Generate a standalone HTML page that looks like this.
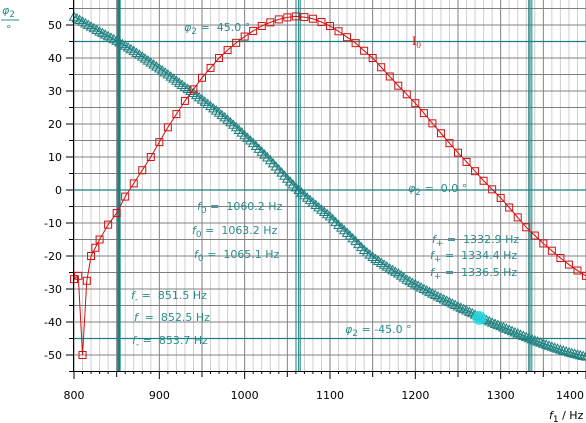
<!DOCTYPE html>
<html><head><meta charset="utf-8"><style>
html,body{margin:0;padding:0;background:#fff;}
svg{display:block;font-family:"DejaVu Sans","Liberation Sans",sans-serif;}
text{white-space:pre;}
.lbl{fill:#2a8c8c;font-size:11px;}
</style></head><body>
<svg id="chart" width="586" height="423" viewBox="0 0 586 423" xmlns="http://www.w3.org/2000/svg">
<g id="grid"></g>
<g id="marks"></g>
<g id="axes"></g>
<g id="labels"></g>
</svg>
<script>
const redFreq = [800,805,810,815,820,825,830,840,850,860,870,880,890,900,910,920,930,940,950,960,970,980,990,1000,1010,1020,1030,1040,1050,1060,1070,1080,1090,1100,1110,1120,1130,1140,1150,1160,1170,1180,1190,1200,1210,1220,1230,1240,1250,1260,1270,1280,1290,1300,1310,1320,1330,1340,1350,1360,1370,1380,1390,1400];
const redValues = [-27,-26,-50,-27.5,-20,-17.5,-15,-10.5,-7,-2,2,6,10,14.5,19,23,27,30.5,34,37,40,42.4,44.6,46.5,48.2,49.7,50.8,51.7,52.3,52.6,52.4,51.9,50.9,49.7,48.1,46.3,44.5,42.2,40,37.2,34.4,31.6,29,26.3,23.3,20.2,17.2,14.2,11.3,8.5,5.7,2.8,0.2,-2.4,-5.3,-8.3,-11.3,-13.8,-16.2,-18.4,-20.6,-22.6,-24.4,-26];
const greenFreq = [800,810,820,830,840,850,860,870,880,890,900,910,920,930,940,950,960,970,980,990,1000,1010,1020,1030,1040,1050,1060,1070,1080,1090,1100,1110,1120,1130,1140,1150,1160,1170,1180,1190,1200,1210,1220,1230,1240,1250,1260,1270,1280,1290,1300,1310,1320,1330,1340,1350,1360,1370,1380,1390,1400];
const greenValues = [52.5,51,49.5,48,46.6,45.2,43.7,42.1,40.4,38.6,36.8,35,33.1,31.2,29.4,27.4,25.4,23.4,21.3,19,16.6,14.2,11.6,9,6.2,3.4,0.8,-1.6,-3.8,-6,-8,-10.6,-13,-15.5,-18.2,-20.3,-22.1,-23.8,-25.3,-27.2,-28.6,-30,-31.4,-32.7,-34,-35.3,-36.5,-37.8,-39,-40.2,-41.3,-42.4,-43.5,-44.6,-45.6,-46.6,-47.5,-48.4,-49.2,-49.9,-50.5];
const xTicks = [800,900,1000,1100,1200,1300,1400];
const yTicks = [50,40,30,20,10,0,-10,-20,-30,-40,-50];
const fMinus = [851.5,852.5,853.7];
const fZero = [1060.2,1063.2,1065.1];
const fPlus = [1332.9,1334.4,1336.5];
const phiLines = [45,0,-45];
const cursor = [1275,-38.8];

const NS="http://www.w3.org/2000/svg";
const X0=74,X1=586,YTOP=0,YBOT=371;
const xs=f=>X0+(f-800)*(X1-X0)/600;
const ys=v=>190-3.3*v;
function mk(p,t,a){const e=document.createElementNS(NS,t);for(const k in a)e.setAttribute(k,a[k]);p.appendChild(e);return e;}
const grid=document.getElementById('grid'),marks=document.getElementById('marks'),axes=document.getElementById('axes');

for(let f=800;f<=1400;f+=10){
  const l=mk(grid,'line',{x1:xs(f),x2:xs(f),y1:YTOP,y2:YBOT,stroke:f%50===0?'#808080':'#d0d0d0','stroke-width':1});
  
  
}
for(let v=-55;v<=55;v+=5){
  const l=mk(grid,'line',{x1:X0,x2:X1,y1:ys(v),y2:ys(v),stroke:'#808080','stroke-width':1});
  
  
}
phiLines.forEach(v=>{
  const l=mk(grid,'line',{x1:X0,x2:X1,y1:ys(v),y2:ys(v),stroke:'#1f8080','stroke-width':1.2});
  
  
});
fMinus.forEach(f=>{
  const l=mk(grid,'line',{x1:xs(f),x2:xs(f),y1:YTOP,y2:YBOT,stroke:'#1f8080','stroke-width':1.6});
  
  
});
fZero.forEach(f=>{
  const l=mk(grid,'line',{x1:xs(f),x2:xs(f),y1:YTOP,y2:YBOT,stroke:'#1f8080','stroke-width':1});
  
  
});
fPlus.forEach(f=>{
  const l=mk(grid,'line',{x1:xs(f),x2:xs(f),y1:YTOP,y2:YBOT,stroke:'#1f8080','stroke-width':1});
  
  
});

let gp=greenFreq.map((f,i)=>(i?'L':'M')+xs(f)+','+ys(greenValues[i])).join('');
const gl=mk(marks,'path',{d:gp,fill:'none',stroke:'#1f8080','stroke-width':1});


function tri(x,y){
  const t=mk(marks,'path',{d:`M${x-4.5},${y+3.5}L${x+4.5},${y+3.5}L${x},${y-4.5}Z`,fill:'none',stroke:'#1f8080','stroke-width':1});
  
  
}
greenFreq.forEach((f,i)=>{
  const x=xs(f),y=ys(greenValues[i]);tri(x,y);
  if(i<greenFreq.length-1){const x2=xs(greenFreq[i+1]),y2=ys(greenValues[i+1]);
    for(let k=1;k<3;k++)tri(x+(x2-x)*k/3,y+(y2-y)*k/3);}
});
let rp=redFreq.map((f,i)=>(i?'L':'M')+xs(f)+','+ys(redValues[i])).join('');
const rl=mk(marks,'path',{d:rp,fill:'none',stroke:'#d01010','stroke-width':1});


redFreq.forEach((f,i)=>{
  const r=mk(marks,'rect',{x:xs(f)-3.5,y:ys(redValues[i])-3.5,width:7,height:7,fill:'none',stroke:'#d01010','stroke-width':1});
  
  
});
const cc=mk(marks,'circle',{cx:xs(cursor[0]),cy:ys(cursor[1]),r:7,fill:'#20e0e8','fill-opacity':0.8});



const ya=mk(axes,'line',{x1:73.5,x2:73.5,y1:0,y2:YBOT,stroke:'#000','stroke-width':1});


const xa=mk(axes,'line',{x1:73,x2:X1,y1:YBOT+0.5,y2:YBOT+0.5,stroke:'#000','stroke-width':1});


for(let v=-55;v<=55;v+=5){
  const t=mk(axes,'line',{x1:v%10===0?66:69,x2:74,y1:ys(v),y2:ys(v),stroke:'#000'});
  
  
}
for(let f=800;f<=1400;f+=10){
  const t=mk(axes,'line',{x1:xs(f),x2:xs(f),y1:YBOT,y2:YBOT+(f%100===0?8:f%50===0?6:3),stroke:'#000'});
  
  
}
yTicks.forEach(v=>{
  const t=mk(axes,'text',{x:62,y:ys(v)+4,'text-anchor':'end','font-size':11,fill:'#000'});
  t.textContent=v;
  
  
});
xTicks.forEach(f=>{
  const t=mk(axes,'text',{x:Math.min(xs(f),570),y:399,'text-anchor':'middle','font-size':11,fill:'#000'});
  t.textContent=f;
  
  
});
</script>
<script>
(function(){
const L=document.getElementById('labels');
L.innerHTML=`
<text x="2" y="14" class="lbl" font-style="italic">φ<tspan font-size="9" dy="3" font-style="normal">2</tspan></text>
<line x1="1" x2="19" y1="20" y2="20" stroke="#2a8c8c"/>
<text x="6" y="33" class="lbl">°</text>
<text x="549" y="419" font-size="11" fill="#000"><tspan font-style="italic">f</tspan><tspan font-size="9" dy="3">1</tspan><tspan dy="-3"> / Hz</tspan></text>
<text x="184" y="31" class="lbl"><tspan font-style="italic">φ</tspan><tspan font-size="9" dy="3">2</tspan><tspan dy="-3"> =  45.0 °</tspan></text>
<text x="412" y="45" fill="#d01010" font-size="13" font-family="Liberation Serif,serif">I<tspan font-size="9" dy="3">0</tspan></text>
<text x="408" y="192" class="lbl"><tspan font-style="italic">φ</tspan><tspan font-size="9" dy="3">2</tspan><tspan dy="-3"> =  0.0 °</tspan></text>
<text x="345" y="333" class="lbl"><tspan font-style="italic">φ</tspan><tspan font-size="9" dy="3">2</tspan><tspan dy="-3"> = -45.0 °</tspan></text>
<text x="197" y="210" class="lbl"><tspan font-style="italic">f</tspan><tspan font-size="9" dy="3">0</tspan><tspan dy="-3"> =  1060.2 Hz</tspan></text>
<text x="192" y="234" class="lbl"><tspan font-style="italic">f</tspan><tspan font-size="9" dy="3">0</tspan><tspan dy="-3"> =  1063.2 Hz</tspan></text>
<text x="194" y="258" class="lbl"><tspan font-style="italic">f</tspan><tspan font-size="9" dy="3">0</tspan><tspan dy="-3"> =  1065.1 Hz</tspan></text>
<text x="131" y="299" class="lbl"><tspan font-style="italic">f</tspan><tspan font-size="9" dy="3">-</tspan><tspan dy="-3"> =  851.5 Hz</tspan></text>
<text x="134" y="321" class="lbl"><tspan font-style="italic">f</tspan><tspan font-size="9" dy="3">-</tspan><tspan dy="-3"> =  852.5 Hz</tspan></text>
<text x="132" y="344" class="lbl"><tspan font-style="italic">f</tspan><tspan font-size="9" dy="3">-</tspan><tspan dy="-3"> =  853.7 Hz</tspan></text>
<text x="432" y="243" class="lbl"><tspan font-style="italic">f</tspan><tspan font-size="9" dy="3">+</tspan><tspan dy="-3"> =  1332.9 Hz</tspan></text>
<text x="430" y="259" class="lbl"><tspan font-style="italic">f</tspan><tspan font-size="9" dy="3">+</tspan><tspan dy="-3"> =  1334.4 Hz</tspan></text>
<text x="430" y="276" class="lbl"><tspan font-style="italic">f</tspan><tspan font-size="9" dy="3">+</tspan><tspan dy="-3"> =  1336.5 Hz</tspan></text>`;
})();
</script>
</body></html>
